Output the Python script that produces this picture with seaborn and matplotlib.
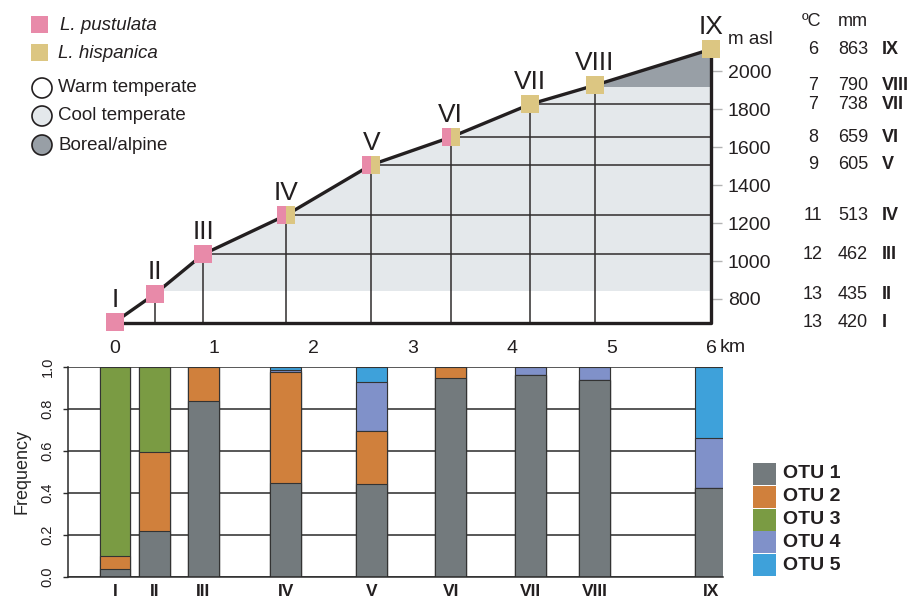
import numpy as np
import pandas as pd
import matplotlib
matplotlib.use("Agg")
import matplotlib.pyplot as plt
import seaborn as sns
from matplotlib.patches import Polygon, Rectangle, Circle
from matplotlib.transforms import Affine2D, blended_transform_factory

# ---------------------------------------------------------------- data
sites = ["I", "II", "III", "IV", "V", "VI", "VII", "VIII", "IX"]
distance_km = [0.0, 0.40, 0.89, 1.72, 2.58, 3.38, 4.18, 4.83, 6.0]
elevation_m = [678, 825, 1036, 1241, 1507, 1653, 1827, 1927, 2117]
has_pustulata = [1, 1, 1, 1, 1, 1, 0, 0, 0]
has_hispanica = [0, 0, 0, 1, 1, 1, 1, 1, 1]
temperature_c = [13, 13, 12, 11, 9, 8, 7, 7, 6]
precip_mm = [420, 435, 462, 513, 605, 659, 738, 790, 863]
cool_zone_m = [842, 1918]          # warm -> cool -> boreal limits
elev_ticks = [800, 1000, 1200, 1400, 1600, 1800, 2000]
km_ticks = [0, 1, 2, 3, 4, 5, 6]

otu_names = ["OTU 1", "OTU 2", "OTU 3", "OTU 4", "OTU 5"]
otu1 = [0.040, 0.220, 0.840, 0.450, 0.445, 0.950, 0.960, 0.940, 0.425]
otu2 = [0.060, 0.375, 0.160, 0.525, 0.250, 0.050, 0.000, 0.000, 0.000]
otu3 = [0.900, 0.405, 0.000, 0.000, 0.000, 0.000, 0.000, 0.000, 0.000]
otu4 = [0.000, 0.000, 0.000, 0.010, 0.232, 0.000, 0.040, 0.060, 0.235]
otu5 = [0.000, 0.000, 0.000, 0.015, 0.073, 0.000, 0.000, 0.000, 0.340]
freq_ticks = [0.0, 0.2, 0.4, 0.6, 0.8, 1.0]

# ---------------------------------------------------------------- style
sns.set_style("white")
plt.rcParams["font.family"] = ["Liberation Sans", "DejaVu Sans"]
plt.rcParams["text.color"] = "#231f20"
plt.rcParams["xtick.color"] = "#231f20"
plt.rcParams["ytick.color"] = "#231f20"

PINK = "#e88aa9"
TAN = "#dcc682"
COOL = "#e4e8eb"
BOREAL = "#989fa6"
INK = "#231f20"
LINE = "#2f2c2c"
otu_colors = ["#737a7d", "#d0803c", "#7a9b43", "#8091c9", "#3ea1da"]

W, H = 909, 602
fig = plt.figure(figsize=(W / 100, H / 100), dpi=100)
fig.patch.set_facecolor("white")
# pixel coordinates measured from the top-left corner of the figure
pxT = Affine2D().scale(1 / W, -1 / H).translate(0, 1) + fig.transFigure


def box(x0, y0, x1, y1):
    return [x0 / W, 1 - y1 / H, (x1 - x0) / W, (y1 - y0) / H]


PX_PER_KM = 99.33
KM0_PX = 115
M_PER_PX = 1 / 0.18958
BASE_M = 673

# ================================================================ profile
ax = fig.add_axes(box(100, 30, 711, 323))
ax.set_facecolor("none")
ax.set_xlim(-0.15, 6.0)
top_m = BASE_M + 293 * M_PER_PX
ax.set_ylim(BASE_M, top_m)
for s in ax.spines.values():
    s.set_visible(False)

# area under the profile, used to clip the vegetation belts
under = Polygon(list(zip(distance_km, elevation_m))
                + [(distance_km[-1], BASE_M), (distance_km[0], BASE_M)],
                closed=True, facecolor="none", edgecolor="none")
ax.add_patch(under)
cool = ax.axhspan(cool_zone_m[0], cool_zone_m[1], color=COOL, lw=0, zorder=0.5)
cool.set_clip_path(under)
boreal = ax.axhspan(cool_zone_m[1], top_m, color=BOREAL, lw=0, zorder=0.5)
boreal.set_clip_path(under)

# guide lines from the sampling sites
ax.vlines(distance_km[1:8], BASE_M, elevation_m[1:8], color=LINE, lw=1.1, zorder=2)
ax.hlines(elevation_m[2:7], distance_km[2:7], distance_km[-1], color=LINE, lw=1.1, zorder=2)

# elevation profile and frame
sns.lineplot(x=distance_km, y=elevation_m, sort=False, color=INK, lw=2.4,
             ax=ax, zorder=3)
ax.plot([distance_km[0], distance_km[-1], distance_km[-1]],
        [BASE_M, BASE_M, elevation_m[-1]], color=INK, lw=2.4, zorder=3,
        clip_on=False, solid_capstyle="butt")

# species markers (split squares where both species occur)
for d, e, p, h, name in zip(distance_km, elevation_m, has_pustulata,
                            has_hispanica, sites):
    if p and h:
        kw = dict(fillstyle="left", markerfacecolor=PINK, markerfacecoloralt=TAN)
    elif p:
        kw = dict(fillstyle="full", markerfacecolor=PINK)
    else:
        kw = dict(fillstyle="full", markerfacecolor=TAN)
    ax.plot([d], [e], marker="s", ms=12.3, mew=0, ls="none", zorder=6,
            clip_on=False, **kw)
    ax.annotate(name, (d, e), xytext=(0, 11), textcoords="offset points",
                ha="center", va="baseline", fontsize=19, color=INK,
                annotation_clip=False)

ax.set_xticks(km_ticks)
ax.set_xticklabels([str(k) for k in km_ticks])
ax.tick_params(axis="x", length=9.5, width=1, color="#b3b3b3", pad=3,
               labelsize=14, labelcolor=INK)
ax.yaxis.tick_right()
ax.set_yticks(elev_ticks)
ax.set_yticklabels([str(v) for v in elev_ticks])
ax.tick_params(axis="y", length=8, width=1, color="#b3b3b3", pad=4,
               labelsize=14, labelcolor=INK)
ax.set_xlabel("")
ax.set_ylabel("")
fig.text(720, 348, "km", transform=pxT, ha="left", va="center", fontsize=14)
fig.text(728, 39, "m asl", transform=pxT, ha="left", va="center", fontsize=13.5)

# climate table aligned with the site elevations
rowT = blended_transform_factory(pxT, ax.transData)
fig.text(812, 21, "ºC", transform=pxT, ha="center", va="center", fontsize=13)
fig.text(838, 21, "mm", transform=pxT, ha="left", va="center", fontsize=13)
for e, t, pr, name in zip(elevation_m, temperature_c, precip_mm, sites):
    fig.text(813, e, str(t), transform=rowT, ha="center", va="center", fontsize=13)
    fig.text(838, e, str(pr), transform=rowT, ha="left", va="center", fontsize=13)
    fig.text(882, e, name, transform=rowT, ha="left", va="center", fontsize=13,
             fontweight="bold")

# species / vegetation key
fig.add_artist(Rectangle((31, 16), 17, 17, transform=pxT, color=PINK, lw=0))
fig.text(60, 25, "L. pustulata", transform=pxT, ha="left", va="center",
         fontsize=13.5, style="italic")
fig.add_artist(Rectangle((31, 44), 17, 17, transform=pxT, color=TAN, lw=0))
fig.text(58, 53, "L. hispanica", transform=pxT, ha="left", va="center",
         fontsize=13.5, style="italic")
for y, fc, label in [(88, "white", "Warm temperate"),
                     (116, COOL, "Cool temperate"),
                     (145, BOREAL, "Boreal/alpine")]:
    fig.add_artist(Circle((42, y), 10, transform=pxT, facecolor=fc,
                          edgecolor=INK, lw=1.2))
    fig.text(58, y, label, transform=pxT, ha="left", va="center", fontsize=13.5)

# ================================================================ OTU bars
axb = fig.add_axes(box(68, 367, 723, 577))
otus = np.array([otu1, otu2, otu3, otu4, otu5])
cum = np.cumsum(otus, axis=0)
bar_w = 0.312 / np.min(np.diff(distance_km))
for k in reversed(range(len(otu_names))):
    sns.barplot(x=distance_km, y=cum[k], native_scale=True, orient="x",
                width=bar_w, color=otu_colors[k], saturation=1,
                edgecolor="#333333", linewidth=0.8, errorbar=None, ax=axb,
                zorder=2)

axb.set_xlim((68 - KM0_PX) / PX_PER_KM, (723 - KM0_PX) / PX_PER_KM)
axb.set_ylim(0, 1)
axb.set_axisbelow(True)
axb.yaxis.grid(True, color="#2a2a2a", lw=1.1)
axb.xaxis.grid(False)
sns.despine(ax=axb)
for side in ["left", "bottom"]:
    axb.spines[side].set_color("#2a2a2a")
    axb.spines[side].set_linewidth(1.1)

axb.set_yticks(freq_ticks)
axb.set_yticklabels([f"{v:.1f}" for v in freq_ticks], rotation=90, va="center")
axb.tick_params(axis="y", length=3.6, width=1, color="#2a2a2a", pad=6,
                labelsize=10.5, left=True)
axb.set_xticks(distance_km)
axb.set_xticklabels(sites, fontweight="bold")
axb.tick_params(axis="x", length=0, pad=5, labelsize=12.5)
axb.set_xlabel("")
axb.set_ylabel("Frequency", fontsize=13)
axb.yaxis.set_label_coords(-0.058, 0.5)

# OTU key
for i, (name, c) in enumerate(zip(otu_names, otu_colors)):
    top = 463 + i * 22.8
    fig.add_artist(Rectangle((753, top), 23, 22, transform=pxT, color=c, lw=0))
    fig.text(783, top + 11, name, transform=pxT, ha="left", va="center",
             fontsize=14, fontweight="bold")

fig.savefig("out.png", dpi=100, facecolor="white")
